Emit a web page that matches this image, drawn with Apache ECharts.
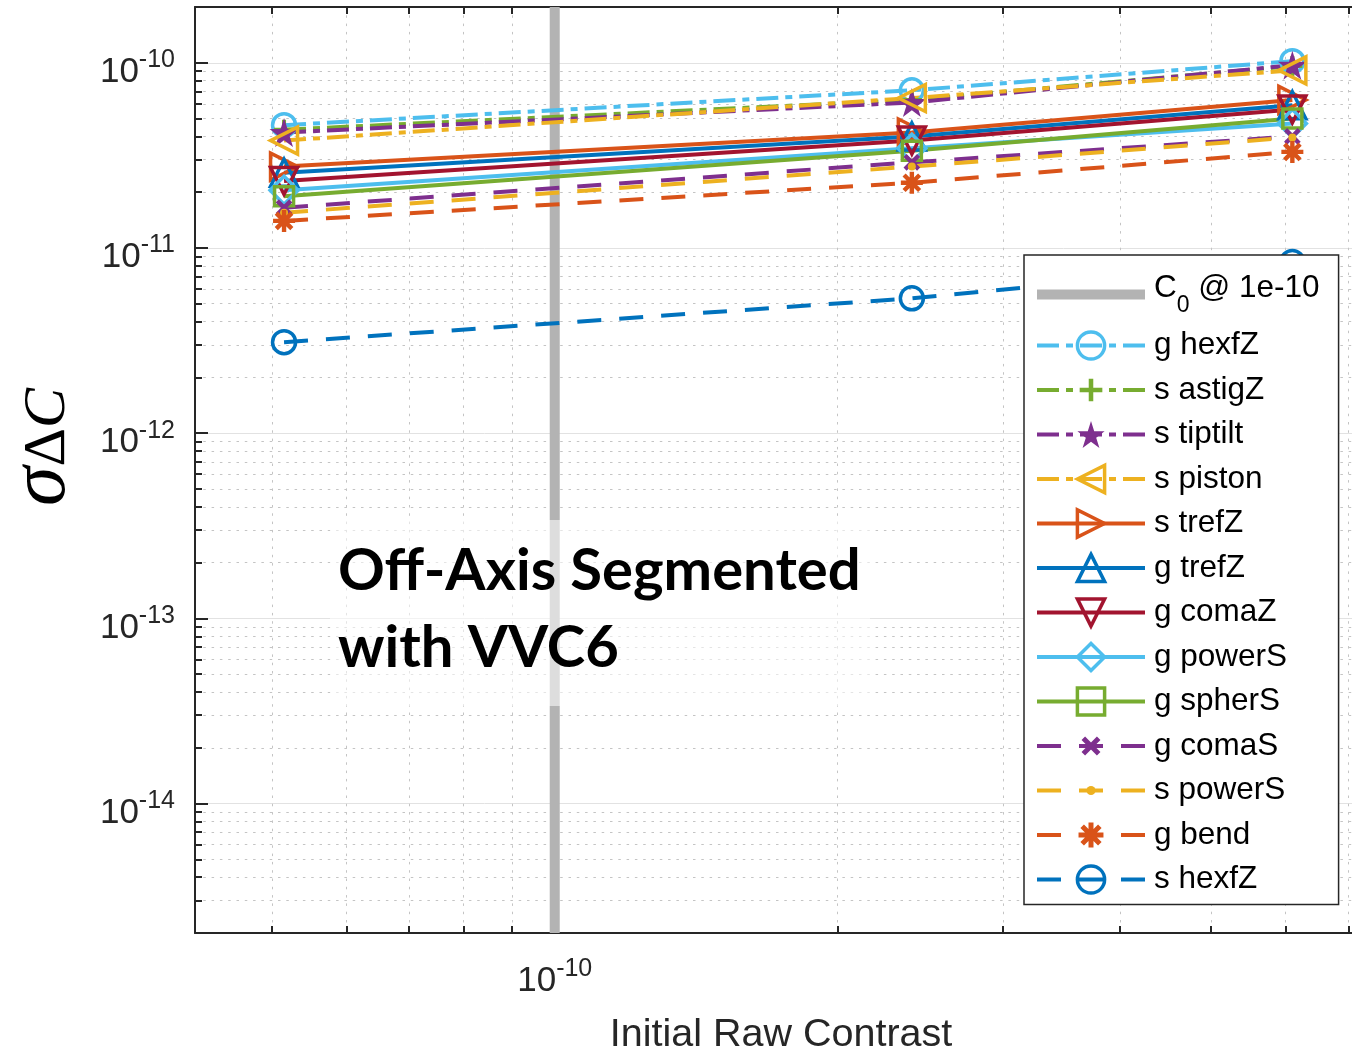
<!DOCTYPE html>
<html>
<head>
<meta charset="utf-8">
<script src="https://cdn.jsdelivr.net/npm/echarts@6/dist/echarts.min.js"></script>
<style>html,body{margin:0;padding:0;background:#fff}#chart{width:1352px;height:1049px}</style>
</head>
<body>
<div id="chart"></div>
<script>
// ---------------- data ----------------
const contrast = [5.15e-11, 2.40e-10, 6.10e-10];     // Initial Raw Contrast (x)
const c0Value = 1e-10;                                // C0 @ 1e-10 vertical marker
const gHexfZ   = [4.6e-11, 7.1e-11, 1.02e-10];
const sAstigZ  = [4.35e-11, 6.3e-11, 9.6e-11];
const sTiptilt = [4.2e-11, 6.1e-11, 9.7e-11];
const sPiston  = [3.8e-11, 6.45e-11, 9.1e-11];
const sTrefZ   = [2.75e-11, 4.2e-11, 6.3e-11];
const gTrefZ   = [2.55e-11, 4.0e-11, 5.9e-11];
const gComaZ   = [2.3e-11, 3.8e-11, 5.6e-11];
const gPowerS  = [2.05e-11, 3.45e-11, 4.7e-11];
const gSpherS  = [1.9e-11, 3.35e-11, 5.0e-11];
const gComaS   = [1.65e-11, 2.9e-11, 4.0e-11];
const sPowerS  = [1.55e-11, 2.75e-11, 3.95e-11];
const gBend    = [1.4e-11, 2.25e-11, 3.3e-11];
const sHexfZ   = [3.1e-12, 5.35e-12, 8.4e-12];

const xMajorTicks = [1e-10];
const yMajorTicks = [1e-14, 1e-13, 1e-12, 1e-11, 1e-10];
const xMinorTicks = [5e-11, 6e-11, 7e-11, 8e-11, 9e-11, 2e-10, 3e-10, 4e-10, 5e-10, 6e-10, 7e-10];
const yMinorTicks = [];
for (let e = -15; e <= -11; e++) for (let m = 2; m <= 9; m++) {
  const v = m * Math.pow(10, e);
  if (v >= 2e-15 && v <= 2e-10) yMinorTicks.push(v);
}
const X_MIN = 4.14e-11, X_MAX = 7.165e-10, Y_MIN = 2e-15, Y_MAX = 2e-10;

// ---------------- styles ----------------
const FONT = 'Liberation Sans';
const AX = '#262626';
const DD = [22, 7, 7, 7];      // dash-dot
const DASH = [24, 18];         // dashed
const STAR = 'path://M0,-100L22.45,-30.9L95.1,-30.9L36.3,11.8L58.8,80.9L0,38.2L-58.8,80.9L-36.3,11.8L-95.1,-30.9L-22.45,-30.9Z';
const PLUS = 'path://M0,0M24,24M10,2h4v8h8v4h-8v8h-4v-8h-8v-4h8z';
const XSYM = 'path://M0,0M24,24M3.66,6.78L6.78,3.66L20.34,17.22L17.22,20.34Z M17.22,3.66L20.34,6.78L6.78,20.34L3.66,17.22Z';
const AST = 'path://M0,0M24,24M9.8,1h4.4v22h-4.4z M1,9.8h22v4.4h-22z M2.66,5.78L5.78,2.66L21.34,18.22L18.22,21.34Z M18.22,2.66L21.34,5.78L5.78,21.34L2.66,18.22Z';
const DOT = 'path://M0,0M24,24M16,12A4,4,0,1,1,8,12A4,4,0,1,1,16,12Z';

const defs = [
  {name: 'g hexfZ',   vals: gHexfZ,   color: '#4DBEEE', dash: DD,      sym: 'circle',   size: 23, hollow: true},
  {name: 's astigZ',  vals: sAstigZ,  color: '#77AC30', dash: DD,      sym: PLUS,       size: 24},
  {name: 's tiptilt', vals: sTiptilt, color: '#7E2F8E', dash: DD,      sym: STAR,       size: 29},
  {name: 's piston',  vals: sPiston,  color: '#EDB120', dash: DD,      sym: 'triangle', size: 27, hollow: true, rot: 90},
  {name: 's trefZ',   vals: sTrefZ,   color: '#D95319', dash: 'solid', sym: 'triangle', size: 27, hollow: true, rot: -90},
  {name: 'g trefZ',   vals: gTrefZ,   color: '#0072BD', dash: 'solid', sym: 'triangle', size: 27, hollow: true},
  {name: 'g comaZ',   vals: gComaZ,   color: '#A2142F', dash: 'solid', sym: 'triangle', size: 27, hollow: true, rot: 180},
  {name: 'g powerS',  vals: gPowerS,  color: '#4DBEEE', dash: 'solid', sym: 'diamond',  size: 28, hollow: true},
  {name: 'g spherS',  vals: gSpherS,  color: '#77AC30', dash: 'solid', sym: 'rect',     size: 19, hollow: true},
  {name: 'g comaS',   vals: gComaS,   color: '#7E2F8E', dash: DASH,    sym: XSYM,       size: 24},
  {name: 's powerS',  vals: sPowerS,  color: '#EDB120', dash: DASH,    sym: DOT,        size: 24},
  {name: 'g bend',    vals: gBend,    color: '#D95319', dash: DASH,    sym: AST,        size: 24},
  {name: 's hexfZ',   vals: sHexfZ,   color: '#0072BD', dash: DASH,    sym: 'circle',   size: 23, hollow: true}
];
const C0_NAME = 'C0 @ 1e-10';

const series = [{
  name: C0_NAME, type: 'line', xAxisIndex: 0, yAxisIndex: 0,
  data: [[c0Value, Y_MIN], [c0Value, Y_MAX]],
  symbol: 'none', silent: true,
  lineStyle: {color: '#b3b3b3', width: 10},
  itemStyle: {color: '#b3b3b3'}
}];
defs.forEach(d => {
  series.push({
    name: d.name, type: 'line', xAxisIndex: 0, yAxisIndex: 0,
    data: contrast.map((x, i) => [x, d.vals[i]]),
    symbol: d.sym, symbolSize: d.size, symbolRotate: d.rot || 0,
    showAllSymbol: true, silent: true,
    lineStyle: {color: d.color, width: 4, type: d.dash},
    itemStyle: d.hollow
      ? {color: 'rgba(255,255,255,0)', borderColor: d.color, borderWidth: 3.5}
      : {color: d.color, borderWidth: 0}
  });
});

function powLabel(v) {
  const e = Math.round(Math.log10(v));
  return '{b|10}{s|' + e + '}';
}
const tickRich = {
  b: {fontSize: 35, fontFamily: FONT, color: AX, verticalAlign: 'bottom'},
  s: {fontSize: 25, fontFamily: FONT, color: AX, verticalAlign: 'top', padding: [0, 0, 17, 0]}
};

const chart = echarts.init(document.getElementById('chart'), null, {renderer: 'canvas'});
chart.setOption({
  animation: false,
  backgroundColor: '#fff',
  grid: [
    {left: 195, top: 7, right: -6, bottom: 116, containLabel: false, outerBoundsMode: 'none'},
    {left: 195, top: 7, right: -6, bottom: 116, containLabel: false, outerBoundsMode: 'none'}
  ],
  xAxis: [
    {gridIndex: 0, type: 'log', position: 'bottom', min: X_MIN, max: X_MAX,
     axisLine: {show: true, lineStyle: {color: AX, width: 2}},
     axisTick: {show: true, inside: true, length: 13, customValues: xMajorTicks, lineStyle: {color: AX, width: 2}},
     axisLabel: {show: true, customValues: xMajorTicks, formatter: powLabel, margin: 18, padding: [6, 0, 0, 0], rich: tickRich},
     splitLine: {show: true, lineStyle: {color: '#e2e2e2', width: 1}},
     name: 'Initial Raw Contrast', nameLocation: 'middle', nameGap: 82,
     nameTextStyle: {fontSize: 39.5, fontFamily: FONT, color: AX, padding: [0, 0, 0, 9]}},
    {gridIndex: 0, type: 'log', position: 'top', min: X_MIN, max: X_MAX,
     axisLine: {show: true, lineStyle: {color: AX, width: 2}},
     axisTick: {show: true, inside: true, length: 13, customValues: xMajorTicks, lineStyle: {color: AX, width: 2}},
     axisLabel: {show: false}, splitLine: {show: false}},
    {gridIndex: 1, type: 'log', position: 'bottom', min: X_MIN, max: X_MAX,
     axisLine: {show: false},
     axisTick: {show: true, inside: true, length: 7, customValues: xMinorTicks, lineStyle: {color: AX, width: 2}},
     axisLabel: {show: false},
     splitLine: {show: true, lineStyle: {color: '#c4c4c4', width: 1, type: [2.5, 5.8]}}},
    {gridIndex: 1, type: 'log', position: 'top', min: X_MIN, max: X_MAX,
     axisLine: {show: false},
     axisTick: {show: true, inside: true, length: 7, customValues: xMinorTicks, lineStyle: {color: AX, width: 2}},
     axisLabel: {show: false}, splitLine: {show: false}}
  ],
  yAxis: [
    {gridIndex: 0, type: 'log', position: 'left', min: Y_MIN, max: Y_MAX,
     axisLine: {show: true, lineStyle: {color: AX, width: 2}},
     axisTick: {show: true, inside: true, length: 13, customValues: yMajorTicks, lineStyle: {color: AX, width: 2}},
     axisLabel: {show: true, customValues: yMajorTicks, formatter: powLabel, margin: 20, padding: [12, 0, 0, 0], rich: tickRich},
     splitLine: {show: true, lineStyle: {color: '#e2e2e2', width: 1}},
     name: '{s|σ}{d|Δ}{c|C}', nameLocation: 'middle', nameRotate: 90, nameGap: 112,
     nameTextStyle: {
       padding: [0, 0, 0, 46],
       rich: {
         s: {fontSize: 80, fontFamily: 'Liberation Serif', fontStyle: 'italic', color: '#000', verticalAlign: 'bottom'},
         d: {fontSize: 60, fontFamily: 'Liberation Serif', color: '#000', verticalAlign: 'bottom', padding: [0, 0, 5, 0]},
         c: {fontSize: 60, fontFamily: 'Liberation Serif', fontStyle: 'italic', color: '#000', verticalAlign: 'bottom', padding: [0, 0, 5, 0]}
       }
     }},
    {gridIndex: 1, type: 'log', position: 'left', min: Y_MIN, max: Y_MAX,
     axisLine: {show: false},
     axisTick: {show: true, inside: true, length: 7, customValues: yMinorTicks, lineStyle: {color: AX, width: 2}},
     axisLabel: {show: false},
     splitLine: {show: true, lineStyle: {color: '#c4c4c4', width: 1, type: [2.5, 5.8]}}}
  ],
  legend: {
    orient: 'vertical', left: 1024, top: 255,
    padding: [17, 19, 9, 11],
    backgroundColor: '#fff', borderColor: AX, borderWidth: 1.5,
    itemWidth: 108, itemHeight: 34, itemGap: 12.5,
    selectedMode: false,
    lineStyle: {width: 4},
    itemStyle: {borderWidth: 'inherit'},
    data: [{name: C0_NAME, icon: 'path://M0,0h108v10h-108z', itemStyle: {color: '#b3b3b3'}}].concat(defs.map(d => d.name)),
    formatter: n => n === C0_NAME ? '{n|C}{sub|0}{n| @ 1e-10}' : n,
    textStyle: {
      fontSize: 31.5, fontFamily: FONT, color: '#000', padding: [0, 0, 0, 4],
      rich: {
        n: {fontSize: 31.5, fontFamily: FONT, color: '#000', verticalAlign: 'top'},
        sub: {fontSize: 23, fontFamily: FONT, color: '#000', verticalAlign: 'top', padding: [22, 0, 0, 0]}
      }
    }
  },
  graphic: [
    {type: 'rect', z: 10, shape: {x: 330, y: 520, width: 540, height: 186}, style: {fill: 'rgba(255,255,255,0.55)'}},
    {type: 'text', z: 11, x: 338, y: 533,
     style: {text: 'Off-Axis Segmented\nwith VVC6', fill: '#000', fontFamily: 'Lato', fontWeight: 'bold', fontSize: 58, lineHeight: 77}}
  ],
  series: series
});
</script>
</body>
</html>
